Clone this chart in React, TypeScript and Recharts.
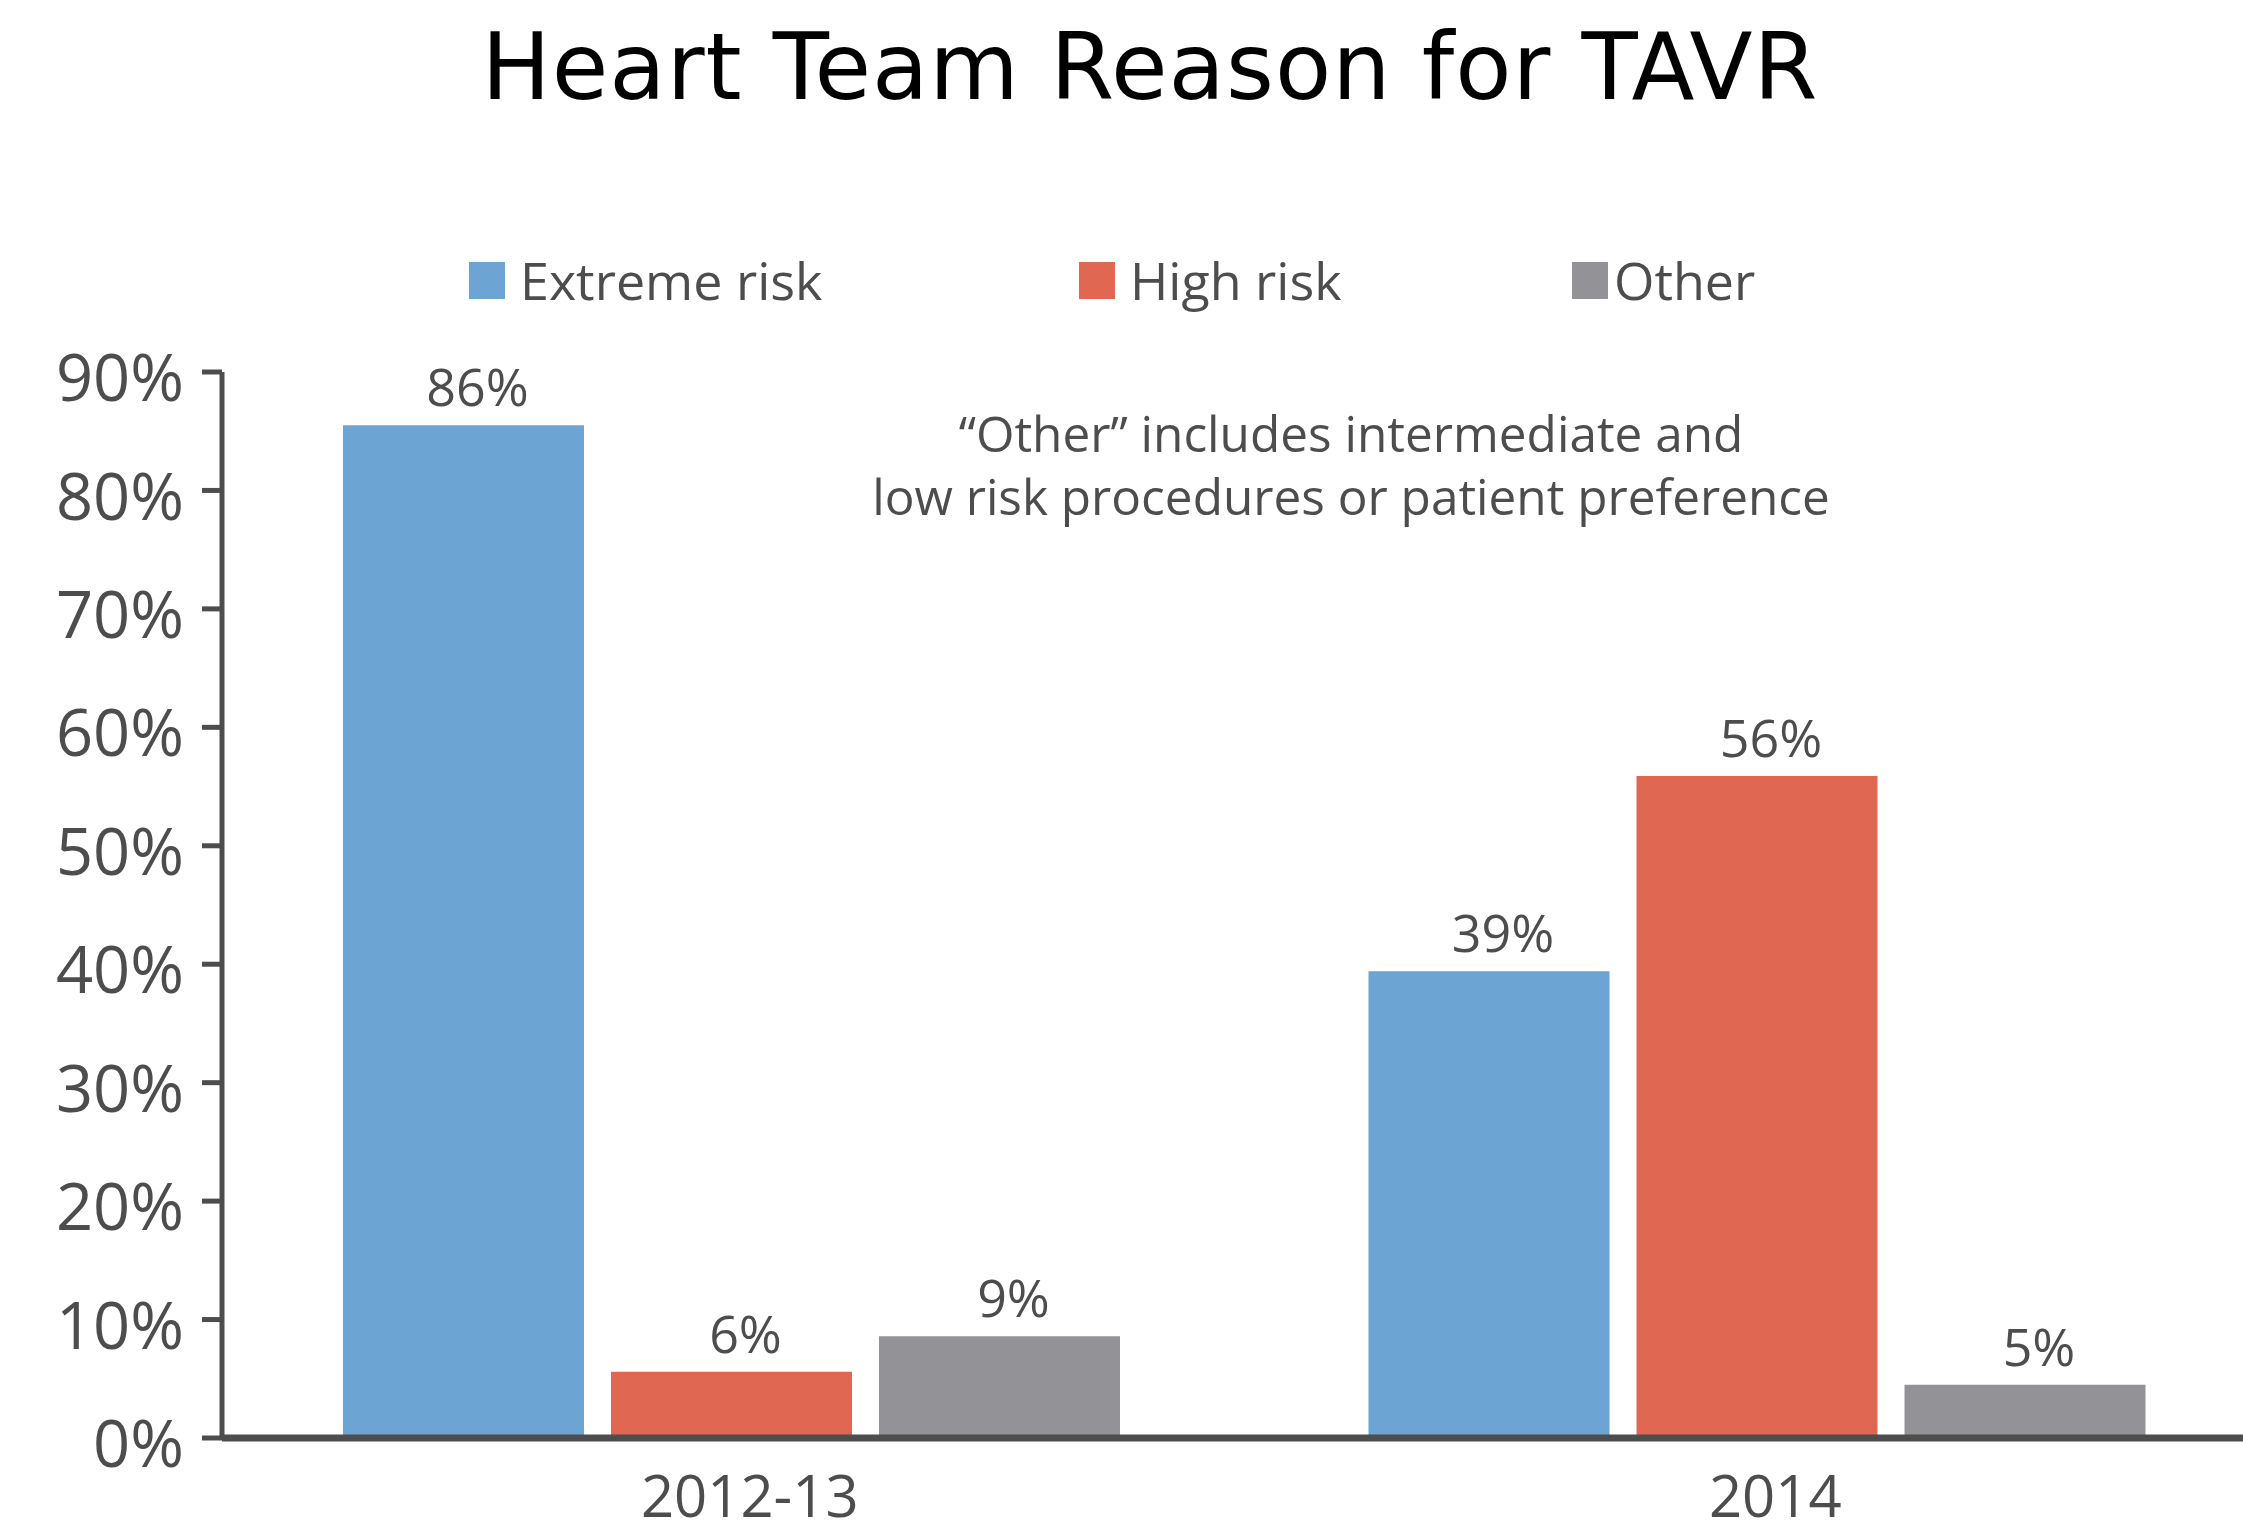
import React from "react";
import { BarChart, Bar, XAxis, YAxis, Legend, LabelList } from "recharts";

const categories = ["2012-13", "2014"];
const extremeRisk = [85.5, 39.4];
const highRisk = [5.6, 55.9];
const otherReason = [8.6, 4.5];
const seriesNames = ["Extreme risk", "High risk", "Other"];
const yTicks = [0, 10, 20, 30, 40, 50, 60, 70, 80, 90];

const TEXT = "#4d4d4d";
const FONT = "'Open Sans', 'Noto Sans', sans-serif";
const COLORS = ["#6ca4d4", "#e06852", "#939397"];
const LEGEND_LEFT = [469, 1079, 1572];

const data = categories.map((year, i) => ({
  year,
  extreme: extremeRisk[i],
  high: highRisk[i],
  other: otherReason[i],
}));

const pct = (v: unknown) => `${Math.round(Number(v))}%`;

function renderLegend(props: any) {
  const items = props.payload ?? [];
  return (
    <div style={{ position: "relative", height: 40 }}>
      {items.map((item: any, i: number) => (
        <div
          key={item.value}
          style={{
            position: "absolute",
            left: LEGEND_LEFT[i],
            top: 0,
            display: "flex",
            alignItems: "center",
            height: 40,
            whiteSpace: "nowrap",
          }}
        >
          <span style={{ width: 36, height: 37, background: item.color, display: "inline-block" }} />
          <span style={{ marginLeft: i === 2 ? 6 : 15, fontSize: 52, color: TEXT, fontFamily: FONT, lineHeight: 1 }}>
            {item.value}
          </span>
        </div>
      ))}
    </div>
  );
}

export default function App() {
  return (
    <div style={{ position: "relative", width: 2243, height: 1533, background: "#fff" }}>
      <style>{`body{margin:0;overflow:hidden}`}</style>
      <div
        style={{
          position: "absolute",
          left: 1150,
          top: 22,
          transform: "translateX(-50%)",
          fontFamily: "'Comic Sans MS', 'DejaVu Sans', sans-serif",
          fontSize: 92,
          lineHeight: 1,
          color: "#000",
          whiteSpace: "nowrap",
          letterSpacing: 1,
        }}
      >
        Heart Team Reason for TAVR
      </div>
      <div
        style={{
          position: "absolute",
          left: 1351,
          top: 402,
          transform: "translateX(-50%)",
          fontFamily: FONT,
          fontSize: 49.5,
          lineHeight: "63px",
          color: TEXT,
          textAlign: "center",
          whiteSpace: "nowrap",
          zIndex: 2,
        }}
      >
        “Other” includes intermediate and
        <br />
        low risk procedures or patient preference
      </div>
      <BarChart
        width={2243}
        height={1533}
        data={data}
        margin={{ top: 372, right: 0, bottom: 0, left: 0 }}
        barSize={241}
        barGap={27}
      >
        <XAxis
          dataKey="year"
          height={95}
          padding={{ left: -3, right: -27 }}
          axisLine={{ stroke: TEXT, strokeWidth: 7 }}
          tickLine={false}
          tickSize={0}
          tickMargin={38}
          tick={{ fontSize: 58, fill: TEXT, fontFamily: FONT, dx: 18 }}
        />
        <YAxis
          width={222}
          domain={[0, 90]}
          ticks={yTicks}
          interval={0}
          tickFormatter={(v) => `${v}%`}
          axisLine={{ stroke: TEXT, strokeWidth: 5 }}
          tickLine={{ stroke: TEXT, strokeWidth: 5 }}
          tickSize={20}
          tickMargin={18}
          tick={{ fontSize: 65, fill: TEXT, fontFamily: FONT, dy: 6 }}
        />
        <Legend
          layout="horizontal"
          verticalAlign="middle"
          content={renderLegend}
          wrapperStyle={{ top: 260, left: 0, width: 2243, height: 40 }}
        />
        <Bar dataKey="extreme" name={seriesNames[0]} fill={COLORS[0]} isAnimationActive={false}>
          <LabelList dataKey="extreme" position="top" offset={19} formatter={pct} style={{ fontSize: 52, fill: TEXT, fontFamily: FONT }} dx={14} />
        </Bar>
        <Bar dataKey="high" name={seriesNames[1]} fill={COLORS[1]} isAnimationActive={false}>
          <LabelList dataKey="high" position="top" offset={19} formatter={pct} style={{ fontSize: 52, fill: TEXT, fontFamily: FONT }} dx={14} />
        </Bar>
        <Bar dataKey="other" name={seriesNames[2]} fill={COLORS[2]} isAnimationActive={false}>
          <LabelList dataKey="other" position="top" offset={19} formatter={pct} style={{ fontSize: 52, fill: TEXT, fontFamily: FONT }} dx={14} />
        </Bar>
      </BarChart>
    </div>
  );
}
